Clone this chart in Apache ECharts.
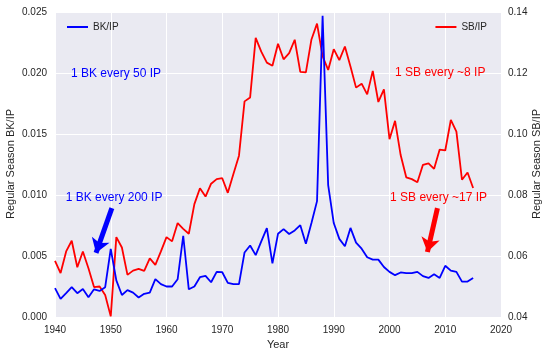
<!DOCTYPE html>
<html><head><meta charset="utf-8">
<script src="https://cdn.jsdelivr.net/npm/echarts@6/dist/echarts.min.js"></script>
<style>html,body{margin:0;padding:0;background:#fff}#c{width:549px;height:356px}</style>
</head><body><div id="c"></div>
<script>
const years = [];
for (let y = 1940; y <= 2015; y++) years.push(y);

const bkPerIP = [
  0.00236,0.00148,0.00195,0.00244,0.00195,0.0023,0.00162,0.00227,0.00214,0.00244,
  0.00559,0.0030,0.0018,0.0022,0.0020,0.0016,0.0019,0.0020,0.0031,0.0027,
  0.0025,0.0025,0.0031,0.00666,0.00227,0.0025,0.00326,0.00337,0.00285,0.0037,
  0.00367,0.0028,0.0027,0.0027,0.00529,0.00586,0.00507,0.0062,0.00729,0.0044,
  0.00682,0.0072,0.0068,0.0071,0.00753,0.0060,0.0077,0.0095,0.0247,0.0108,
  0.0077,0.0064,0.0058,0.0073,0.0061,0.0056,0.0049,0.0047,0.0047,0.0041,
  0.0037,0.00343,0.00365,0.0036,0.0036,0.0037,0.00335,0.0032,0.0035,0.0032,
  0.0042,0.0038,0.0037,0.0029,0.0029,0.0032
];

const sbPerIP = [
  0.0584,0.0544,0.0615,0.0650,0.0563,0.0615,0.0560,0.0498,0.0500,0.0472,
  0.0402,0.0662,0.0628,0.0538,0.0552,0.0558,0.0551,0.0592,0.0571,0.0615,
  0.0662,0.0648,0.0708,0.0689,0.0673,0.0770,0.0822,0.0795,0.0837,0.0852,
  0.0855,0.0807,0.0869,0.0929,0.1107,0.1120,0.1315,0.1270,0.1234,0.1224,
  0.1296,0.1245,0.1265,0.1309,0.1204,0.1202,0.1310,0.1362,0.1255,0.1210,
  0.1278,0.1242,0.1287,0.1221,0.1152,0.1165,0.1130,0.1207,0.1105,0.1146,
  0.0983,0.1043,0.0931,0.0858,0.0852,0.0842,0.0899,0.0904,0.0886,0.0949,
  0.0946,0.1046,0.1008,0.0850,0.0874,0.0823
];

const xTicks = { min: 1940, max: 2020, interval: 10 };
const leftTicks = { min: 0, max: 0.025, interval: 0.005 };
const rightTicks = { min: 0.04, max: 0.14, interval: 0.02 };

const leftTitle = 'Regular Season BK/IP';
const rightTitle = 'Regular Season SB/IP';

// annotations in data coordinates
const bkNotes = [
  { text: '1 BK every 50 IP', coord: [1950.95, 0.01997] },
  { text: '1 BK every 200 IP', coord: [1950.6, 0.00978] }
];
const sbNotes = [
  { text: '1 SB every ~8 IP', coord: [2009.1, 0.1200] },
  { text: '1 SB every ~17 IP', coord: [2008.8, 0.0791] }
];
const bkArrow = [[1950.2, 0.00893], [1947.36, 0.00525]];
const sbArrow = [[2008.6, 0.0757], [2006.8, 0.0613]];

const FONT = 'Liberation Sans, Arial, sans-serif';
const TXT = '#262626';

function pairs(vals) { return years.map((y, i) => [y, vals[i]]); }
function notes(list, color) {
  return {
    silent: true,
    symbol: 'circle', symbolSize: 1,
    itemStyle: { color: 'transparent' },
    label: { show: true, position: 'inside', color: color, fontSize: 12, fontFamily: FONT,
      formatter: p => p.name },
    data: list.map(n => ({ name: n.text, coord: n.coord }))
  };
}
function arrow(a, color) {
  return {
    silent: true, animation: false,
    symbol: ['none', 'arrow'], symbolSize: 14,
    lineStyle: { color: color, width: 5, type: 'solid' },
    itemStyle: { color: color },
    label: { show: false },
    data: [[{ coord: a[0] }, { coord: a[1] }]]
  };
}
function vtitle(text, x) {
  return {
    type: 'text', x: x, y: 164, rotation: Math.PI / 2, silent: true,
    style: { text: text, align: 'center', verticalAlign: 'middle', fill: TXT,
      fontSize: 11, fontFamily: FONT }
  };
}

const chart = echarts.init(document.getElementById('c'), null, { renderer: 'canvas' });
chart.setOption({
  animation: false,
  backgroundColor: '#ffffff',
  textStyle: { fontFamily: FONT },
  grid: { left: 55, right: 48, top: 12, bottom: 39, show: true, backgroundColor: '#EAEAF2', borderWidth: 0,
    containLabel: false, outerBoundsMode: 'none' },
  graphic: [vtitle(leftTitle, 11), vtitle(rightTitle, 537)],
  legend: [
    { data: ['BK/IP'], left: 62, top: 17, icon: 'rect', itemWidth: 21, itemHeight: 2,
      textStyle: { color: TXT, fontSize: 10, fontFamily: FONT } },
    { data: ['SB/IP'], right: 57, top: 17, icon: 'rect', itemWidth: 21, itemHeight: 2,
      textStyle: { color: TXT, fontSize: 10, fontFamily: FONT } }
  ],
  xAxis: {
    type: 'value', min: xTicks.min, max: xTicks.max, interval: xTicks.interval,
    name: 'Year', nameLocation: 'middle', nameGap: 21,
    nameTextStyle: { color: TXT, fontSize: 11, fontFamily: FONT },
    axisLine: { show: false }, axisTick: { show: false },
    axisLabel: { color: TXT, fontSize: 10, fontFamily: FONT, margin: 8, formatter: v => String(v) },
    splitLine: { show: true, lineStyle: { color: '#ffffff', width: 1 } }
  },
  yAxis: [
    {
      type: 'value', min: leftTicks.min, max: leftTicks.max, interval: leftTicks.interval,
      axisLine: { show: false }, axisTick: { show: false },
      axisLabel: { color: TXT, fontSize: 10, fontFamily: FONT, margin: 8, formatter: v => v.toFixed(3) },
      splitLine: { show: true, lineStyle: { color: '#ffffff', width: 1 } }
    },
    {
      type: 'value', min: rightTicks.min, max: rightTicks.max, interval: rightTicks.interval,
      axisLine: { show: false }, axisTick: { show: false },
      axisLabel: { color: TXT, fontSize: 10, fontFamily: FONT, margin: 7, formatter: v => v.toFixed(2) },
      splitLine: { show: false }
    }
  ],
  series: [
    {
      name: 'BK/IP', type: 'line', yAxisIndex: 0, data: pairs(bkPerIP),
      symbol: 'none', lineStyle: { color: '#0000FF', width: 1.8 }, itemStyle: { color: '#0000FF' },
      clip: true, z: 3,
      markPoint: notes(bkNotes, '#0000FF'),
      markLine: arrow(bkArrow, '#0000FF')
    },
    {
      name: 'SB/IP', type: 'line', yAxisIndex: 1, data: pairs(sbPerIP),
      symbol: 'none', lineStyle: { color: '#FF0000', width: 1.8 }, itemStyle: { color: '#FF0000' },
      clip: true, z: 2,
      markPoint: notes(sbNotes, '#FF0000'),
      markLine: arrow(sbArrow, '#FF0000')
    }
  ]
});
</script></body></html>
